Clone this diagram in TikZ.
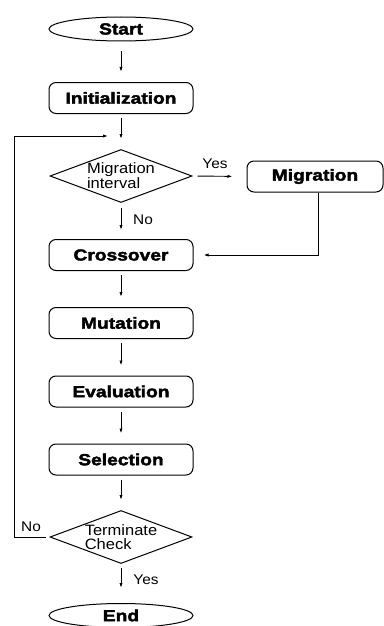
\documentclass[tikz,border=0pt]{standalone}
\usepackage{fontspec}
\usepackage{tikz}
\usetikzlibrary{positioning, shapes.geometric, arrows.meta}

\newfontfamily\boxfont[FakeStretch=1.2,FakeBold=2.5]{Liberation Sans Bold}
\newfontfamily\diafont[FakeStretch=1.1]{Liberation Sans}

\tikzset{
    terminal/.style={draw, ellipse, line width=1pt, minimum width=144pt, minimum height=24pt, inner sep=0pt, font=\boxfont\fontsize{16}{16}\selectfont},
    process/.style={draw, rectangle, rounded corners=7pt, line width=1pt, minimum width=144pt, minimum height=31pt, inner sep=0pt, font=\boxfont\fontsize{16}{16}\selectfont},
    decision/.style={draw, diamond, aspect=2.66, line width=1pt, minimum width=142pt, minimum height=53pt, inner sep=0pt, align=left, font=\diafont\fontsize{15}{13.5}\selectfont},
    lbl/.style={inner sep=0pt, font=\diafont\fontsize{14}{14}\selectfont},
    arr/.style={-{Latex[length=5pt,width=3.2pt]}, line width=0.9pt, shorten <=4pt, shorten >=10pt}
}

\begin{document}
\begin{tikzpicture}[x=1pt, y=1pt]
        \useasboundingbox (0,0) rectangle (383,-626);

        \node (start) [terminal] at (121,-29) {Start};
        \node (init) [process] at (121,-98) {Initialization};
        \node (migint) [decision] at (121,-176) {Migration\\interval};
        \node (migr) [process, minimum width=136pt] at (315,-176.5) {Migration};
        \node (cross) [process] at (121,-255) {Crossover};
        \node (mut) [process] at (121,-323) {Mutation};
        \node (eval) [process] at (121,-391.5) {Evaluation};
        \node (sel) [process] at (121,-459.5) {Selection};
        \node (term) [decision] at (121,-537) {Terminate\\Check};
        \node (end) [terminal] at (121,-615.5) {End};
        \coordinate (join) at (121,-136);

        % main chain
        \draw[arr, shorten <=10pt] (start) -- (init);
        \draw[arr] (init) -- (migint);
        \draw[arr, shorten <=5pt, shorten >=9pt] (migint) -- (cross);
        \draw[arr] (cross) -- (mut);
        \draw[arr] (mut) -- (eval);
        \draw[arr] (eval) -- (sel);
        \draw[arr] (sel) -- (term);
        \draw[arr, shorten >=15pt] (term) -- (end);

        % migration branch
        \draw[arr, shorten <=5pt, shorten >=14pt] (migint.east) -- (migr.west);
        \draw[arr, shorten <=0pt] ([xshift=3pt]migr.south) |- (cross.east);

        % loop back
        \draw[arr, shorten >=13pt] (term.west) -- ++(-35,0) |- (join);

        \node (yes1) [lbl] at (215,-164) {Yes};
        \node (no1) [lbl] at (143,-220) {No};
        \node (no2) [lbl] at (31,-527) {No};
        \node (yes2) [lbl] at (146,-580) {Yes};
    \end{tikzpicture}
\end{document}
